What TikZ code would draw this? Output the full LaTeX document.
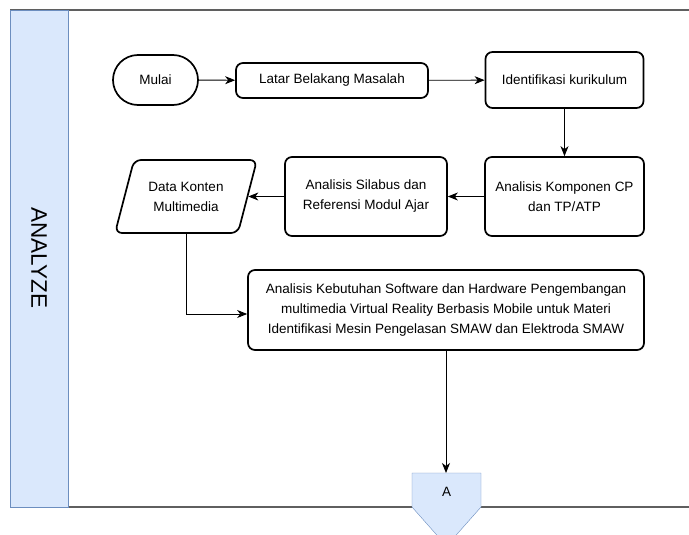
\documentclass[tikz,border=0pt]{standalone}
\usepackage{fontspec}
\setmainfont{Liberation Sans}
\usetikzlibrary{arrows.meta,shapes.geometric}
\definecolor{laneblue}{HTML}{DAE8FC}
\definecolor{laneline}{HTML}{6C8EBF}
\definecolor{lanegray}{HTML}{5F5F5F}
\begin{document}
\begin{tikzpicture}[x=1pt,y=-1pt,font=\fontsize{13.5}{20}\selectfont,
  box/.style={draw,line width=1.7pt,rounded corners=7pt,align=center,inner sep=0pt},
  arr/.style={-{Stealth[length=10pt,width=8pt,inset=3pt]},line width=0.9pt}]
\useasboundingbox(0,0)rectangle(689,535);
\draw[lanegray,line width=1.2pt](10,10)--(689,10);
\draw[lanegray,line width=1.2pt](68,507)--(689,507);
\draw[laneline,fill=laneblue](10,10)rectangle(68,507);
\node(lane)[rotate=-90,font=\fontsize{22.5}{26}\selectfont]at(39,258){ANALYZE};
\node(mulai)[box,rounded corners=25pt,minimum width=85pt,minimum height=50pt]at(155.5,80){Mulai};
\node(latar)[box,minimum width=192pt,minimum height=35pt]at(332,80.5){Latar Belakang Masalah};
\node(ident)[box,minimum width=158pt,minimum height=56pt]at(564.5,80){Identifikasi kurikulum};
\node(komp)[box,minimum width=159pt,minimum height=79pt]at(564.5,196.5){Analisis Komponen CP\\dan TP/ATP};
\node(silabus)[box,minimum width=162pt,minimum height=79pt]at(366,196.5){Analisis Silabus dan\\Referensi Modul Ajar};
\node(data)[box,trapezium,trapezium left angle=65,trapezium right angle=115,trapezium stretches=true,
  minimum width=142pt,minimum height=73pt]at(186,196.5){Data Konten\\Multimedia};
\node(big)[box,minimum width=396pt,minimum height=80pt]at(446,310){Analisis Kebutuhan Software dan Hardware Pengembangan\\multimedia Virtual Reality Berbasis Mobile untuk Materi\\Identifikasi Mesin Pengelasan SMAW dan Elektroda SMAW};
\draw[laneline,fill=laneblue](412,473)--(481,473)--(481,507)--(446.5,546)--(412,507)--cycle;
\coordinate(konAtop)at(446,473);
\node(konA)at(446.5,492){A};
\draw[arr](mulai)--(latar);
\draw[arr](latar)--(ident);
\draw[arr](ident)--(komp);
\draw[arr](komp)--(silabus);
\draw[arr](silabus)--(data);
\draw[arr](data.south)|-([yshift=-4pt]big.west);
\draw[arr](big)--(konAtop);
\end{tikzpicture}
\end{document}
